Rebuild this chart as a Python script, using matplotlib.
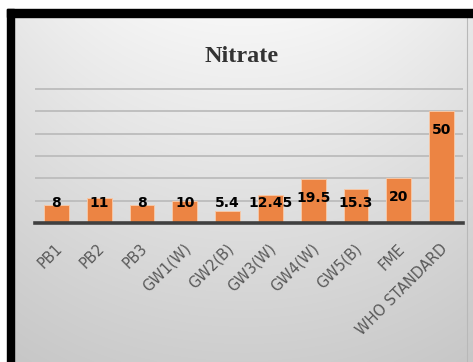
import numpy as np
import matplotlib
matplotlib.use('Agg')
import matplotlib.pyplot as plt
from matplotlib.patches import Rectangle
from matplotlib.transforms import ScaledTranslation

# Nitrate values per sampling point (mg/L)
sitios = ['PB1', 'PB2', 'PB3', 'GW1(W)', 'GW2(B)', 'GW3(W)', 'GW4(W)',
          'GW5(B)', 'FME', 'WHO STANDARD']
nitrato = [8, 11, 8, 10, 5.4, 12.45, 19.5, 15.3, 20, 50]

W, H = 473, 362
fig = plt.figure(figsize=(W / 100, H / 100), dpi=100)
fig.patch.set_facecolor('white')

# fondo gris con degradado (mas claro arriba al centro)
bg = fig.add_axes([14 / W, 0, 1 - 14 / W, 1 - 17 / H])
yy, xx = np.mgrid[0:1:200j, -1:1:300j]
tono = 246 - 40 * yy - 14 * xx ** 2 * (1 - 0.5 * yy)
bg.imshow(np.dstack([tono, tono, tono]) / 255, aspect='auto',
          extent=[0, 1, 0, 1], interpolation='bilinear')
bg.axvline(0.986, color='#b8b8b8', lw=0.8)
bg.axis('off')

# marco negro arriba y a la izquierda
fig.patches.append(Rectangle((7 / W, 1 - 17 / H), 1 - 7 / W, 8 / H,
                             transform=fig.transFigure, color='black'))
fig.patches.append(Rectangle((7 / W, 0), 7 / W, 1 - 9 / H,
                             transform=fig.transFigure, color='black'))

ax = fig.add_axes([35 / W, 1 - 223 / H, 428 / W, 135 / H])
ax.set_facecolor('none')
x = np.arange(len(sitios))
ax.bar(x, nitrato, width=0.58, color='#ec8443', edgecolor='#f6c7a6',
       linewidth=0.7, zorder=3)

ax.set_xlim(-0.5, len(sitios) - 0.5)
ax.set_ylim(0, 60.4)
ax.set_yticks(np.arange(10, 61, 10))
ax.yaxis.grid(True, color='#bcbcbc', lw=1.3, zorder=1)
ax.tick_params(axis='y', left=False, labelleft=False)
for s in ['top', 'right', 'left']:
    ax.spines[s].set_visible(False)
ax.spines['bottom'].set_color('#404040')
ax.spines['bottom'].set_linewidth(2.6)
ax.spines['bottom'].set_zorder(4)

ax.set_xticks(x)
ax.set_xticklabels(sitios, rotation=45, ha='right', va='top',
                   rotation_mode='anchor', color='#595959', fontsize=10.5)
ax.tick_params(axis='x', length=0, pad=13)
desplaza = ScaledTranslation(-2 / 100, 0, fig.dpi_scale_trans)
for lab in ax.get_xticklabels():
    lab.set_transform(lab.get_transform() + desplaza)

# etiquetas de datos
for xi, v in zip(x, nitrato):
    ax.text(xi, max(9, v - 8.5), f'{v:g}', ha='center', va='center',
            fontsize=10, fontweight='bold', color='black', zorder=5)

fig.text(241.5 / W, 1 - 57 / H, 'Nitrate', ha='center', va='center',
         family='Liberation Serif', fontweight='bold', fontsize=17.5,
         color='#333333')

fig.savefig('out.png', dpi=100)
